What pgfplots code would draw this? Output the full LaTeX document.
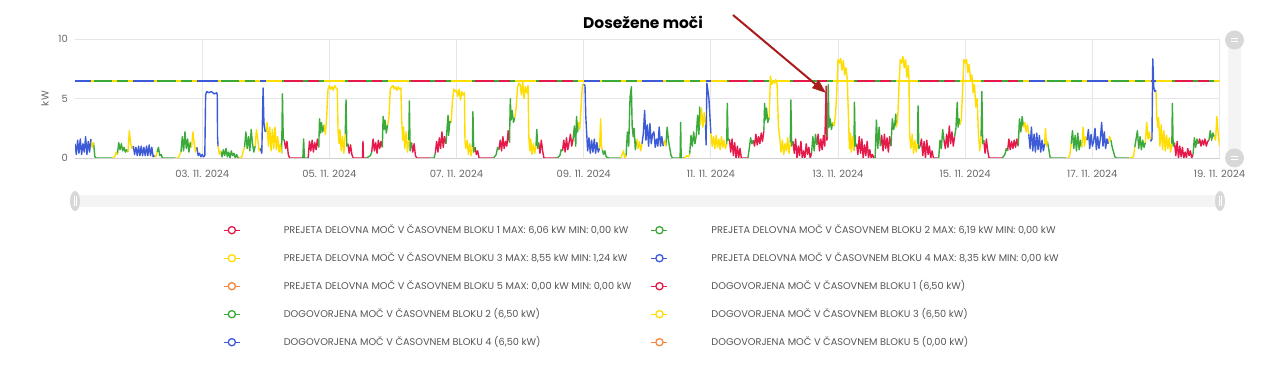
\documentclass[border=0pt]{standalone}
\usepackage{pgfplots}
\pgfplotsset{compat=1.18}
\usepackage{pgfplotstable}
\usetikzlibrary{arrows.meta}
\usepackage{fontspec}
\setmainfont{Poppins}

\definecolor{cR}{HTML}{E5194A}
\definecolor{cG}{HTML}{3BAA3B}
\definecolor{cY}{HTML}{FFDD00}
\definecolor{cB}{HTML}{3D5BD6}
\definecolor{cO}{HTML}{F5883E}
\definecolor{gridc}{HTML}{E6E6E6}
\definecolor{axisc}{HTML}{D0D0D0}
\definecolor{tickc}{HTML}{666666}
\definecolor{legc}{HTML}{555555}
\definecolor{arrowc}{HTML}{A81C1C}
\definecolor{scrtrack}{HTML}{F4F4F4}
\definecolor{scrhandle}{HTML}{D8D8D8}

% measured power: t = hours since 01.11.2024 00:00, v = kW, c = time block
\pgfplotstableread{
t v c
0 1.2 4
0.5 0.3 4
1 1.5 4
1.5 0.4 4
2 1.6 4
2.5 0.3 4
3 1.2 4
3.5 0.5 4
4 1.8 4
4.5 0.3 4
5 1.4 4
5.5 0.5 4
6 1.6 4
6 1.6 3
6.5 0.9 3
7 1.3 3
7 1.3 2
7.5 0.1 2
8 0 2
14 0 2
14 0 3
15 0.1 3
15.5 0.5 3
16 0.3 3
16 0.3 2
16.5 1.3 2
17 0.7 2
17.5 1.2 2
18 0.6 2
18.5 0.9 2
19 0.5 2
19.5 0.7 2
20 0.5 2
20 0.5 3
20.5 2.3 3
21 1.2 3
21.5 0.8 3
22 1.0 3
22 1.0 4
22.5 0.3 4
23 0.9 4
23.5 0.2 4
24 1.0 4
24.5 0.2 4
25 1.0 4
25.5 0.2 4
26 0.9 4
26.5 0.2 4
27 1.0 4
27.5 0.2 4
28 1.1 4
28.5 0.2 4
29 0.9 4
29.5 0.1 4
30 0.2 4
30 0.2 3
30.5 0.1 3
31 0.5 3
31 0.5 2
31.5 0.9 2
32 0.2 2
32.5 0.3 2
33 0 2
38 0 2
38 0 3
39 0 3
39.5 0.3 3
40 0.5 3
40 0.5 2
40.5 1.8 2
41 0.6 2
41.5 2.2 2
42 0.8 2
42.5 1.6 2
43 0.5 2
43.5 1.3 2
44 0.9 2
44 0.9 3
44.5 2.2 3
45 1.2 3
45.5 0.5 3
46 0.9 3
46 0.9 4
46.5 0.2 4
47 0.4 4
47.5 0.1 4
48 0.3 4
48.5 0.1 4
49 0.2 4
49.3 5.3 4
49.7 5.6 4
50.5 5.5 4
51.5 5.6 4
52.5 5.4 4
53.5 5.5 4
53.7 5.3 4
53.8 1.8 4
54 1.0 4
54 1.0 3
54.5 0.3 3
55 0.6 3
55 0.6 2
55.5 0.1 2
56 0.7 2
56.5 0.2 2
57 0.8 2
57.5 0.1 2
58 0.5 2
58.5 0 2
59 0.6 2
59.5 0.2 2
60 0.4 2
60.5 0 2
61 0.3 2
61.5 0 2
62 0 2
62 0 3
63 0.1 3
63.5 0.6 3
64 0.9 3
64 0.9 2
64.5 2.2 2
65 0.8 2
65.5 1.8 2
66 0.6 2
66.5 2.4 2
67 1.2 2
67.5 0.5 2
68 1.0 2
68 1.0 3
68.5 2.4 3
69 1.5 3
69.5 0.6 3
70 0.8 3
70 0.8 4
70.5 0.4 4
71 5.9 4
71.3 3.0 4
71.7 2.3 4
72 2.2 4
72 2.2 3
72.5 3.0 3
73 1.0 3
73.5 2.6 3
74 0.6 3
74.5 2.4 3
75 0.8 3
75.5 2.6 3
76 0.7 3
76.5 1.8 3
77 0.5 3
77.5 1.2 3
78 0.4 3
78 0.4 2
78.3 5.4 2
78.6 1.6 2
79 1.5 2
79 1.5 1
79.5 0.8 1
80 1.4 1
80.5 0.3 1
81 0 1
86 0 1
86 0 2
86.3 1.6 2
86.6 0 2
88 0 2
88 0 1
88.5 1.4 1
89 0.6 1
89.5 1.5 1
90 0.5 1
90.5 1.3 1
91 0.7 1
91.5 1.6 1
92 0.9 1
92 0.9 2
92.3 3.3 2
92.7 2.1 2
93 3.0 2
93.5 2.2 2
94 2.8 2
94 2.8 3
94.5 2.0 3
95 3.5 3
95.5 5.8 3
96 6.1 3
96.5 5.8 3
97 6.0 3
97.5 5.7 3
98 6.1 3
98.5 5.9 3
99 5.8 3
99.3 2.2 3
99.7 1.2 3
100 2.4 3
100.5 0.6 3
101 1.8 3
101.5 0.4 3
102 2.0 3
102 2.0 2
102.3 4.9 2
102.6 1.0 2
103 1.2 2
103 1.2 1
103.5 0.4 1
104 1.1 1
104.5 0.3 1
105 0 1
108.5 0 1
108.7 1.4 1
108.9 0 1
110 0 1
110 0 2
111.5 0.2 2
112 0.5 2
112 0.5 1
112.5 1.6 1
113 0.6 1
113.5 1.3 1
114 0.4 1
114.5 1.5 1
115 0.8 1
115.5 1.4 1
116 0.9 1
116 0.9 2
116.3 3.5 2
116.7 2.4 2
117 3.2 2
117.5 2.1 2
118 2.8 2
118 2.8 3
118.5 3.5 3
119 5.8 3
119.5 6.0 3
120 6.1 3
120.5 5.8 3
121 6.0 3
121.5 5.7 3
122 6.0 3
122.5 5.8 3
123 5.9 3
123.3 3.3 3
123.7 1.5 3
124 2.6 3
124.5 0.8 3
125 2.2 3
125.5 0.5 3
126 1.5 3
126 1.5 2
126.2 4.8 2
126.5 0.6 2
127 1.3 2
127 1.3 1
127.5 0.5 1
128 1.2 1
128.5 0.2 1
129 0 1
134 0 1
134 0 2
135.5 0 2
136 0.4 2
136 0.4 1
136.5 1.4 1
137 0.5 1
137.5 1.7 1
138 0.8 1
138.5 2.2 1
139 0.9 1
139.5 1.8 1
140 1.2 1
140 1.2 2
140.5 2.7 2
140.8 3.6 2
141 1.9 2
141.5 3.1 2
142 3.0 2
142 3.0 3
142.5 4.9 3
143 5.8 3
143.5 5.6 3
144 5.7 3
144.5 5.2 3
145 5.8 3
145.5 4.9 3
146 5.6 3
146.5 5.3 3
147 5.5 3
147.2 1.4 3
147.5 0.8 3
148 1.5 3
148.5 0.3 3
149 1.2 3
149.5 0.2 3
150 0.9 3
150 0.9 2
150.2 3.9 2
150.5 0.5 2
151 0.9 2
151 0.9 1
151.5 0.3 1
152 0.6 1
152.5 0 1
158 0 1
158 0 2
159 0.3 2
159.5 0.9 2
160 0.7 2
160 0.7 1
160.5 1.5 1
161 0.6 1
161.5 1.8 1
162 0.8 1
162.5 1.4 1
163 1.0 1
163.5 2.3 1
164 1.3 1
164 1.3 2
164.3 5.0 2
164.6 3.2 2
165 4.0 2
165.5 3.0 2
166 3.4 2
166 3.4 3
166.5 4.2 3
167 5.9 3
167.5 6.3 3
168 6.2 3
168.5 5.3 3
169 6.4 3
169.5 5.0 3
170 6.0 3
170.5 5.5 3
171 6.1 3
171.3 1.7 3
171.7 0.6 3
172 1.6 3
172.5 0.3 3
173 1.2 3
173.5 0.4 3
174 1.0 3
174 1.0 2
174.3 2.4 2
174.7 0.8 2
175 1.3 2
175 1.3 1
175.5 0.4 1
176 1.5 1
176.5 0.6 1
177 0 1
182 0 1
182 0 2
183 0.2 2
183.5 0.7 2
184 0.6 2
184 0.6 1
184.5 1.5 1
185 0.5 1
185.5 1.7 1
186 0.7 1
186.5 1.3 1
187 2.0 1
187.5 1.0 1
188 1.6 1
188 1.6 2
188.5 2.7 2
189 1.0 2
189.3 3.5 2
189.7 2.2 2
190 3.0 2
190 3.0 3
190.5 2.4 3
191 4.2 3
191.5 6.2 3
192 6.2 3
192 6.2 4
192.5 6.1 4
192.8 3.5 4
193.2 1.8 4
193.5 0.6 4
194 1.7 4
194.5 0.4 4
195 1.5 4
195.5 0.5 4
196 1.6 4
196.5 0.4 4
197 1.3 4
197.5 0.5 4
198 0.8 4
198 0.8 3
198.4 3.3 3
198.7 1.0 3
199 0.7 3
199 0.7 2
199.5 0.3 2
200 0.6 2
200.5 0.1 2
201.5 0 2
206 0 2
206 0 3
207 0.6 3
207.5 0 3
208 0.2 3
208 0.2 2
208.5 2.2 2
209 1.0 2
209.5 5.1 2
210 6.0 2
210.3 2.7 2
210.7 1.8 2
211 2.5 2
211.5 0.7 2
212 1.6 2
212 1.6 3
212.5 0.8 3
213 1.4 3
213.5 0.6 3
214 1.2 3
214 1.2 4
214.5 2.0 4
215 4.0 4
215.5 1.5 4
216 2.8 4
216.5 1.0 4
217 2.9 4
217.5 1.2 4
218 2.0 4
218.5 2.2 4
219 0.9 4
219.5 1.6 4
220 1.0 4
220.5 2.6 4
221 1.0 4
221.5 1.8 4
222 1.0 4
222 1.0 3
222.5 1.5 3
223 1.0 3
223 1.0 2
223.5 2.6 2
224 1.5 2
224.5 0.8 2
225 0.2 2
225.5 0 2
228.4 0 2
228.6 3.0 2
228.8 0 2
230 0 2
230 0 3
231 0.2 3
231.5 0.1 3
232 0.3 3
232 0.3 2
232.5 1.9 2
233 1.0 2
233.5 2.2 2
234 1.2 2
234.5 1.9 2
235 3.6 2
235.5 2.0 2
235.8 4.3 2
236 2.8 2
236 2.8 3
236.5 4.2 3
237 2.6 3
237.5 3.8 3
238 2.8 3
238 2.8 4
238.2 1.1 4
238.5 6.3 4
239 5.5 4
239.3 4.9 4
240 2.1 4
240 2.1 3
240.5 1.0 3
241 1.8 3
241.5 0.8 3
242 1.9 3
242.5 0.9 3
243 1.6 3
243.5 0.7 3
244 1.8 3
244.5 0.9 3
245 1.5 3
245.5 0.8 3
246 1.2 3
246 1.2 2
246.2 4.6 2
246.5 1.5 2
247 1.6 2
247 1.6 1
247.5 0.5 1
248 1.6 1
248.5 0.2 1
249 1.3 1
249.5 0 1
250 1.0 1
250.5 0 1
251 0.8 1
251.5 0 1
254 0 1
254 0 2
254.5 0.8 2
255 1.7 2
255.5 1.2 2
256 1.5 2
256 1.5 1
256.5 1.0 1
257 2.0 1
257.5 1.1 1
258 1.8 1
258.5 1.2 1
259 2.1 1
259.5 1.4 1
260 2.3 1
260 2.3 2
260.3 4.6 2
260.6 3.2 2
261 4.2 2
261.5 3.0 2
262 3.4 2
262 3.4 3
262.5 6.9 3
263 6.2 3
263.5 6.5 3
264 6.3 3
264.5 6.6 3
265 6.2 3
265.5 2.7 3
266 1.7 3
266.5 0.5 3
267 1.5 3
267.5 0.3 3
268 1.2 3
268.5 0.6 3
269 1.7 3
269.5 0.4 3
270 1.3 3
270 1.3 2
270.2 4.9 2
270.5 1.0 2
271 1.4 2
271 1.4 1
271.5 0.4 1
272 1.6 1
272.5 0 1
273 1.0 1
273.5 0.2 1
274 1.4 1
274.5 0 1
275 0.6 1
275.5 0 1
276 1.2 1
276.5 0.3 1
277 0.9 1
277.5 0 1
278 0.4 1
278 0.4 2
278.5 1.8 2
279 0.6 2
279.5 2.0 2
280 1.1 2
280 1.1 1
280.5 2.0 1
281 0.6 1
281.5 1.6 1
282 0.7 1
282.5 1.9 1
283 1.0 1
283.5 6.06 1
283.8 1.5 1
284 1.8 1
284 1.8 2
284.3 6.19 2
284.6 2.6 2
285 3.3 2
285.5 2.4 2
286 3.0 2
286 3.0 3
286.5 2.7 3
287 3.5 3
287.5 5.5 3
288 8.3 3
288.5 8.0 3
289 8.4 3
289.5 7.4 3
290 8.2 3
290.5 7.0 3
291 7.6 3
291.5 6.6 3
292 3.0 3
292.3 0.8 3
292.7 2.1 3
293 0.5 3
293.5 1.8 3
294 0.6 3
294 0.6 2
294.2 4.7 2
294.5 1.0 2
295 1.2 2
295 1.2 1
295.5 0.3 1
296 1.8 1
296.5 0.4 1
297 1.6 1
297.5 0 1
298 1.1 1
298.5 0.2 1
299 1.4 1
299.5 0 1
300 0.7 1
300.5 0 1
301 0.3 1
301.5 0 1
302 0 1
302 0 2
302.5 3.2 2
303 0.8 2
303.5 2.6 2
304 1.0 2
304 1.0 1
304.5 1.9 1
305 0.6 1
305.5 2.0 1
306 0.8 1
306.5 1.7 1
307 0.5 1
307.5 1.8 1
308 1.0 1
308 1.0 2
308.5 3.3 2
309 2.4 2
309.5 3.0 2
309.8 3.7 2
310 2.6 2
310 2.6 3
310.5 3.2 3
311 6.0 3
311.5 8.3 3
312 8.0 3
312.5 8.55 3
313 7.6 3
313.5 8.3 3
314 6.8 3
314.5 7.8 3
314.8 6.6 3
315 2.1 3
315.5 0.8 3
316 2.0 3
316.5 0.4 3
317 1.5 3
317.5 0.5 3
318 1.2 3
318 1.2 2
318.2 4.4 2
318.5 0.8 2
319 1.0 2
319 1.0 1
319.5 1.6 1
320 0.2 1
320.5 1.4 1
321 0 1
321.5 1.5 1
322 0.3 1
322.5 1.0 1
323 0 1
323.5 0.6 1
324 0 1
326 0 1
326 0 2
326.5 1.5 2
327 0.8 2
327.5 2.4 2
328 1.5 2
328 1.5 1
328.5 0.8 1
329 2.0 1
329.5 0.9 1
330 2.7 1
330.5 1.2 1
331 2.2 1
331.5 1.0 1
332 1.8 1
332 1.8 2
332.5 2.5 2
333 4.7 2
333.3 2.6 2
333.7 3.3 2
334 2.8 2
334 2.8 3
334.5 3.2 3
335 5.5 3
335.5 8.3 3
336 8.0 3
336.5 8.3 3
337 7.2 3
337.5 7.9 3
338 6.6 3
338.5 7.0 3
339 5.5 3
339.5 6.2 3
340 4.3 3
340.5 5.0 3
341 2.0 3
341.5 0.6 3
342 1.8 3
342 1.8 2
342.3 5.6 2
342.6 1.2 2
343 1.5 2
343 1.5 1
343.5 0.4 1
344 1.6 1
344.5 0.6 1
345 0 1
350 0 1
350 0 2
351 0.3 2
351.5 0.8 2
352 0.6 2
352 0.6 1
352.5 1.6 1
353 0.7 1
353.5 1.4 1
354 0.8 1
354.5 1.5 1
355 0.9 1
355.5 1.6 1
356 1.0 1
356 1.0 2
356.5 3.3 2
357 2.2 2
357.5 3.5 2
358 2.6 2
358 2.6 3
358.5 3.0 3
359 2.2 3
359.5 2.8 3
360 2.0 3
360 2.0 4
360.5 0.8 4
361 2.6 4
361.5 0.6 4
362 2.0 4
362.5 0.5 4
363 2.1 4
363.5 0.7 4
364 1.9 4
364.5 0.5 4
365 1.5 4
365.5 0.6 4
366 1.2 4
366 1.2 3
366.3 2.5 3
366.7 1.0 3
367 1.4 3
367 1.4 2
367.5 0.8 2
368 0.1 2
368.3 0 2
374 0 2
374 0 3
375 0 3
375.5 0.3 3
376 1.2 3
376 1.2 2
376.5 2.3 2
377 0.8 2
377.5 1.9 2
378 0.6 2
378.5 2.1 2
379 0.7 2
379.5 1.5 2
380 0.9 2
380 0.9 3
380.5 2.6 3
381 1.0 3
381.5 1.8 3
382 1.5 3
382 1.5 4
382.5 2.4 4
383 0.8 4
383.5 2.0 4
384 1.0 4
384.5 1.4 4
385 2.5 4
385.5 0.7 4
386 1.8 4
386.5 0.8 4
387 1.6 4
387.5 3.0 4
388 1.0 4
388.5 2.2 4
389 0.8 4
389.5 1.6 4
390 1.2 4
390 1.2 3
390.5 1.8 3
391 1.5 3
391 1.5 2
391.5 0.9 2
392 0.5 2
392.5 0.1 2
393 0 2
398 0 2
398 0 3
399.5 0.1 3
400 0.9 3
400 0.9 2
400.5 1.6 2
401 2.3 2
401.5 0.8 2
402 1.8 2
402.5 0.7 2
403 1.5 2
403.5 0.9 2
404 1.3 2
404 1.3 3
404.5 3.0 3
405 1.6 3
405.5 2.2 3
406 1.4 3
406 1.4 4
406.5 1.6 4
406.8 8.35 4
407.2 5.9 4
407.6 5.6 4
408 5.7 4
408 5.7 3
408.3 3.5 3
408.7 2.6 3
409 3.4 3
409.5 1.0 3
410 2.8 3
410.5 0.7 3
411 2.3 3
411.5 0.6 3
412 1.9 3
412.5 0.8 3
413 1.7 3
413.5 0.5 3
414 1.2 3
414 1.2 2
414.2 4.6 2
414.5 1.0 2
415 1.3 2
415 1.3 1
415.5 0.2 1
416 1.4 1
416.5 0 1
417 1.0 1
417.5 0.1 1
418 0.9 1
418.5 0 1
419 0.5 1
419.5 0 1
420 0.8 1
420.5 0.2 1
421 0.6 1
421.5 0 1
422 0.3 1
422 0.3 2
422.5 1.7 2
423 0.9 2
423.5 1.6 2
424 1.2 2
424 1.2 1
424.5 1.6 1
425 1.0 1
425.5 1.5 1
426 1.1 1
426.5 1.6 1
427 1.0 1
427.5 1.4 1
428 1.5 1
428 1.5 2
428.5 2.3 2
429 1.5 2
429.5 2.1 2
430 1.8 2
430 1.8 3
430.5 1.5 3
431 3.5 3
431.5 2.0 3
432 1.0 3
}\meas

% contracted power 6.5 kW, coloured by time block
\pgfplotstableread[row sep=\\]{
t v c\\
0 6.5 4\\ 6 6.5 4\\ 6 6.5 3\\ 7 6.5 3\\ 7 6.5 2\\ 14 6.5 2\\ 14 6.5 3\\ 16 6.5 3\\ 16 6.5 2\\ 20 6.5 2\\ 20 6.5 3\\ 22 6.5 3\\ 22 6.5 4\\ 24 6.5 4\\
24 6.5 4\\ 30 6.5 4\\ 30 6.5 3\\ 31 6.5 3\\ 31 6.5 2\\ 38 6.5 2\\ 38 6.5 3\\ 40 6.5 3\\ 40 6.5 2\\ 44 6.5 2\\ 44 6.5 3\\ 46 6.5 3\\ 46 6.5 4\\ 48 6.5 4\\
48 6.5 4\\ 54 6.5 4\\ 54 6.5 3\\ 55 6.5 3\\ 55 6.5 2\\ 62 6.5 2\\ 62 6.5 3\\ 64 6.5 3\\ 64 6.5 2\\ 68 6.5 2\\ 68 6.5 3\\ 70 6.5 3\\ 70 6.5 4\\ 72 6.5 4\\
72 6.5 3\\ 78 6.5 3\\ 78 6.5 2\\ 79 6.5 2\\ 79 6.5 1\\ 86 6.5 1\\ 86 6.5 2\\ 88 6.5 2\\ 88 6.5 1\\ 92 6.5 1\\ 92 6.5 2\\ 94 6.5 2\\ 94 6.5 3\\ 96 6.5 3\\
96 6.5 3\\ 102 6.5 3\\ 102 6.5 2\\ 103 6.5 2\\ 103 6.5 1\\ 110 6.5 1\\ 110 6.5 2\\ 112 6.5 2\\ 112 6.5 1\\ 116 6.5 1\\ 116 6.5 2\\ 118 6.5 2\\ 118 6.5 3\\ 120 6.5 3\\
120 6.5 3\\ 126 6.5 3\\ 126 6.5 2\\ 127 6.5 2\\ 127 6.5 1\\ 134 6.5 1\\ 134 6.5 2\\ 136 6.5 2\\ 136 6.5 1\\ 140 6.5 1\\ 140 6.5 2\\ 142 6.5 2\\ 142 6.5 3\\ 144 6.5 3\\
144 6.5 3\\ 150 6.5 3\\ 150 6.5 2\\ 151 6.5 2\\ 151 6.5 1\\ 158 6.5 1\\ 158 6.5 2\\ 160 6.5 2\\ 160 6.5 1\\ 164 6.5 1\\ 164 6.5 2\\ 166 6.5 2\\ 166 6.5 3\\ 168 6.5 3\\
168 6.5 3\\ 174 6.5 3\\ 174 6.5 2\\ 175 6.5 2\\ 175 6.5 1\\ 182 6.5 1\\ 182 6.5 2\\ 184 6.5 2\\ 184 6.5 1\\ 188 6.5 1\\ 188 6.5 2\\ 190 6.5 2\\ 190 6.5 3\\ 192 6.5 3\\
192 6.5 4\\ 198 6.5 4\\ 198 6.5 3\\ 199 6.5 3\\ 199 6.5 2\\ 206 6.5 2\\ 206 6.5 3\\ 208 6.5 3\\ 208 6.5 2\\ 212 6.5 2\\ 212 6.5 3\\ 214 6.5 3\\ 214 6.5 4\\ 216 6.5 4\\
216 6.5 4\\ 222 6.5 4\\ 222 6.5 3\\ 223 6.5 3\\ 223 6.5 2\\ 230 6.5 2\\ 230 6.5 3\\ 232 6.5 3\\ 232 6.5 2\\ 236 6.5 2\\ 236 6.5 3\\ 238 6.5 3\\ 238 6.5 4\\ 240 6.5 4\\
240 6.5 3\\ 246 6.5 3\\ 246 6.5 2\\ 247 6.5 2\\ 247 6.5 1\\ 254 6.5 1\\ 254 6.5 2\\ 256 6.5 2\\ 256 6.5 1\\ 260 6.5 1\\ 260 6.5 2\\ 262 6.5 2\\ 262 6.5 3\\ 264 6.5 3\\
264 6.5 3\\ 270 6.5 3\\ 270 6.5 2\\ 271 6.5 2\\ 271 6.5 1\\ 278 6.5 1\\ 278 6.5 2\\ 280 6.5 2\\ 280 6.5 1\\ 284 6.5 1\\ 284 6.5 2\\ 286 6.5 2\\ 286 6.5 3\\ 288 6.5 3\\
288 6.5 3\\ 294 6.5 3\\ 294 6.5 2\\ 295 6.5 2\\ 295 6.5 1\\ 302 6.5 1\\ 302 6.5 2\\ 304 6.5 2\\ 304 6.5 1\\ 308 6.5 1\\ 308 6.5 2\\ 310 6.5 2\\ 310 6.5 3\\ 312 6.5 3\\
312 6.5 3\\ 318 6.5 3\\ 318 6.5 2\\ 319 6.5 2\\ 319 6.5 1\\ 326 6.5 1\\ 326 6.5 2\\ 328 6.5 2\\ 328 6.5 1\\ 332 6.5 1\\ 332 6.5 2\\ 334 6.5 2\\ 334 6.5 3\\ 336 6.5 3\\
336 6.5 3\\ 342 6.5 3\\ 342 6.5 2\\ 343 6.5 2\\ 343 6.5 1\\ 350 6.5 1\\ 350 6.5 2\\ 352 6.5 2\\ 352 6.5 1\\ 356 6.5 1\\ 356 6.5 2\\ 358 6.5 2\\ 358 6.5 3\\ 360 6.5 3\\
360 6.5 4\\ 366 6.5 4\\ 366 6.5 3\\ 367 6.5 3\\ 367 6.5 2\\ 374 6.5 2\\ 374 6.5 3\\ 376 6.5 3\\ 376 6.5 2\\ 380 6.5 2\\ 380 6.5 3\\ 382 6.5 3\\ 382 6.5 4\\ 384 6.5 4\\
384 6.5 4\\ 390 6.5 4\\ 390 6.5 3\\ 391 6.5 3\\ 391 6.5 2\\ 398 6.5 2\\ 398 6.5 3\\ 400 6.5 3\\ 400 6.5 2\\ 404 6.5 2\\ 404 6.5 3\\ 406 6.5 3\\ 406 6.5 4\\ 408 6.5 4\\
408 6.5 3\\ 414 6.5 3\\ 414 6.5 2\\ 415 6.5 2\\ 415 6.5 1\\ 422 6.5 1\\ 422 6.5 2\\ 424 6.5 2\\ 424 6.5 1\\ 428 6.5 1\\ 428 6.5 2\\ 430 6.5 2\\ 430 6.5 3\\ 432 6.5 3\\
}\contr

\pgfplotsset{
  legimg/.style={legend image code/.code={%
    \path[draw=none, fill=none] (0bp,-14bp) rectangle (60bp,14bp);
    \draw[line width=1.3bp] (0bp,0bp) -- (16bp,0bp);
    \draw[line width=1.3bp, fill=white] (8bp,0bp) circle (3.6bp);
  }},
  meas/.style={line width=1.4bp, line join=round, forget plot},
  contr/.style={line width=1.8bp, forget plot},
}

\begin{document}
\begin{tikzpicture}
\useasboundingbox (0,0) rectangle (1280bp,374bp);
\begin{axis}[
  at={(75bp,216bp)}, anchor=south west,
  scale only axis, width=1144.5bp, height=118.7bp,
  xmin=0, xmax=432, ymin=0, ymax=10,
  xtick={48,96,...,432},
  xticklabels={03. 11. 2024, 05. 11. 2024, 07. 11. 2024, 09. 11. 2024, 11. 11. 2024, 13. 11. 2024, 15. 11. 2024, 17. 11. 2024, 19. 11. 2024},
  ytick={0,5,10},
  grid=major,
  major grid style={draw=gridc, line width=1bp},
  major tick length=0pt,
  axis x line*=bottom, axis y line*=left,
  x axis line style={draw=axisc, line width=1bp, -},
  y axis line style={draw=none},
  /pgf/number format/assume math mode=true,
  tick label style={font=\fontsize{10}{12}\selectfont, text=tickc},
  xticklabel style={anchor=north, inner sep=0pt, yshift=-12bp},
  yticklabel style={anchor=east, inner sep=0pt, xshift=-7bp},
  ylabel={kW},
  ylabel style={at={(axis description cs:-0.0262,0.5)}, anchor=center, font=\fontsize{10}{12}\selectfont, text=tickc},
  title={Dosežene moči},
  title style={at={(axis description cs:0.4963,1)}, anchor=base, yshift=5.3bp, inner sep=0pt, font=\bfseries\fontsize{15.5}{18}\selectfont, text=black},
  unbounded coords=jump,
  legend columns=2,
  legend cell align=left,
  legend style={at={(axis description cs:0.1293,-0.4886)}, anchor=north west,
    draw=none, fill=none, inner sep=0pt, column sep=0pt, row sep=0pt,
    nodes={inner sep=0pt, text height=7bp, text depth=0bp, font=\fontsize{9.8}{11}\selectfont, text=legc}},
]
% measured power per time block
\addplot[meas, cR, restrict expr to domain={\thisrow{c}}{1:1}] table[x=t, y=v] {\meas};
\addplot[meas, cG, restrict expr to domain={\thisrow{c}}{2:2}] table[x=t, y=v] {\meas};
\addplot[meas, cY, restrict expr to domain={\thisrow{c}}{3:3}] table[x=t, y=v] {\meas};
\addplot[meas, cB, restrict expr to domain={\thisrow{c}}{4:4}] table[x=t, y=v] {\meas};
% contracted power per time block
\addplot[contr, cR, restrict expr to domain={\thisrow{c}}{1:1}] table[x=t, y=v] {\contr};
\addplot[contr, cG, restrict expr to domain={\thisrow{c}}{2:2}] table[x=t, y=v] {\contr};
\addplot[contr, cY, restrict expr to domain={\thisrow{c}}{3:3}] table[x=t, y=v] {\contr};
\addplot[contr, cB, restrict expr to domain={\thisrow{c}}{4:4}] table[x=t, y=v] {\contr};

\addlegendimage{legimg, color=cR}
\addlegendentry{\makebox[367bp][l]{PREJETA DELOVNA MOČ V ČASOVNEM BLOKU 1 MAX: 6,06 kW MIN: 0,00 kW}}
\addlegendimage{legimg, color=cG}
\addlegendentry{\makebox[367bp][l]{PREJETA DELOVNA MOČ V ČASOVNEM BLOKU 2 MAX: 6,19 kW MIN: 0,00 kW}}
\addlegendimage{legimg, color=cY}
\addlegendentry{\makebox[367bp][l]{PREJETA DELOVNA MOČ V ČASOVNEM BLOKU 3 MAX: 8,55 kW MIN: 1,24 kW}}
\addlegendimage{legimg, color=cB}
\addlegendentry{\makebox[367bp][l]{PREJETA DELOVNA MOČ V ČASOVNEM BLOKU 4 MAX: 8,35 kW MIN: 0,00 kW}}
\addlegendimage{legimg, color=cO}
\addlegendentry{\makebox[367bp][l]{PREJETA DELOVNA MOČ V ČASOVNEM BLOKU 5 MAX: 0,00 kW MIN: 0,00 kW}}
\addlegendimage{legimg, color=cR}
\addlegendentry{\makebox[367bp][l]{DOGOVORJENA MOČ V ČASOVNEM BLOKU 1 (6,50 kW)}}
\addlegendimage{legimg, color=cG}
\addlegendentry{\makebox[367bp][l]{DOGOVORJENA MOČ V ČASOVNEM BLOKU 2 (6,50 kW)}}
\addlegendimage{legimg, color=cY}
\addlegendentry{\makebox[367bp][l]{DOGOVORJENA MOČ V ČASOVNEM BLOKU 3 (6,50 kW)}}
\addlegendimage{legimg, color=cB}
\addlegendentry{\makebox[367bp][l]{DOGOVORJENA MOČ V ČASOVNEM BLOKU 4 (6,50 kW)}}
\addlegendimage{legimg, color=cO}
\addlegendentry{\makebox[367bp][l]{DOGOVORJENA MOČ V ČASOVNEM BLOKU 5 (0,00 kW)}}
\end{axis}

% vertical navigator (right)
\fill[scrtrack] (1228bp,216bp) rectangle (1241bp,334bp);
\fill[scrhandle] (1234.5bp,334bp) circle (9.5bp);
\fill[scrhandle] (1234.5bp,216bp) circle (9.5bp);
\draw[white, line width=0.9bp] (1231bp,335.5bp) -- (1238bp,335.5bp) (1231bp,332.5bp) -- (1238bp,332.5bp);
\draw[white, line width=0.9bp] (1231bp,217.5bp) -- (1238bp,217.5bp) (1231bp,214.5bp) -- (1238bp,214.5bp);
% horizontal scrollbar (bottom)
\fill[scrtrack] (75bp,167bp) rectangle (1220bp,179bp);
\fill[scrhandle] (75bp,173bp) ellipse (5bp and 10bp);
\fill[scrhandle] (1220bp,173bp) ellipse (5bp and 10bp);
\draw[white, line width=0.6bp] (73.8bp,168bp) -- (73.8bp,178bp) (76.2bp,168bp) -- (76.2bp,178bp);
\draw[white, line width=0.6bp] (1218.8bp,168bp) -- (1218.8bp,178bp) (1221.2bp,168bp) -- (1221.2bp,178bp);
% annotation arrow
\draw[arrowc, line width=2bp, -{Triangle[length=14bp, width=10bp]}] (733bp,359bp) -- (826bp,281bp);
\end{tikzpicture}
\end{document}
